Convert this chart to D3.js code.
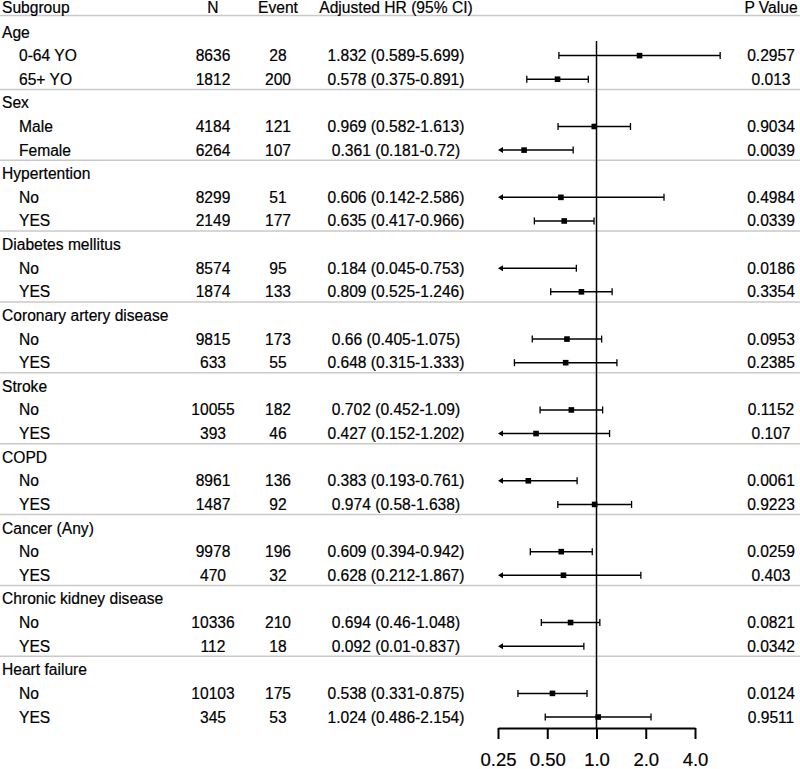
<!DOCTYPE html>
<html>
<head>
<meta charset="utf-8">
<script src="https://cdn.jsdelivr.net/npm/d3@7"></script>
<style>
  html, body { margin: 0; padding: 0; background: #fff; }
  svg text { font-family: "Liberation Sans", Arial, sans-serif; fill: #000; stroke: #000; stroke-width: 0.2px; }
</style>
</head>
<body>
<svg id="chart" width="800" height="769"></svg>
<script>
// ---- data ----
const groups = ["Age", "Sex", "Hypertention", "Diabetes mellitus", "Coronary artery disease",
  "Stroke", "COPD", "Cancer (Any)", "Chronic kidney disease", "Heart failure"];
const subgroups = ["0-64 YO", "65+ YO", "Male", "Female", "No", "YES", "No", "YES", "No", "YES",
  "No", "YES", "No", "YES", "No", "YES", "No", "YES", "No", "YES"];
const nValues = [8636, 1812, 4184, 6264, 8299, 2149, 8574, 1874, 9815, 633,
  10055, 393, 8961, 1487, 9978, 470, 10336, 112, 10103, 345];
const events = [28, 200, 121, 107, 51, 177, 95, 133, 173, 55,
  182, 46, 136, 92, 196, 32, 210, 18, 175, 53];
const hr = [1.832, 0.578, 0.969, 0.361, 0.606, 0.635, 0.184, 0.809, 0.66, 0.648,
  0.702, 0.427, 0.383, 0.974, 0.609, 0.628, 0.694, 0.092, 0.538, 1.024];
const lower = [0.589, 0.375, 0.582, 0.181, 0.142, 0.417, 0.045, 0.525, 0.405, 0.315,
  0.452, 0.152, 0.193, 0.58, 0.394, 0.212, 0.46, 0.01, 0.331, 0.486];
const upper = [5.699, 0.891, 1.613, 0.72, 2.586, 0.966, 0.753, 1.246, 1.075, 1.333,
  1.09, 1.202, 0.761, 1.638, 0.942, 1.867, 1.048, 0.837, 0.875, 2.154];
const pValues = ["0.2957", "0.013", "0.9034", "0.0039", "0.4984", "0.0339", "0.0186", "0.3354",
  "0.0953", "0.2385", "0.1152", "0.107", "0.0061", "0.9223", "0.0259", "0.403",
  "0.0821", "0.0342", "0.0124", "0.9511"];
const headers = ["Subgroup", "N", "Event", "Adjusted HR (95% CI)", "P Value"];
const tickValues = [0.25, 0.5, 1, 2, 4];
const tickLabels = ["0.25", "0.50", "1.0", "2.0", "4.0"];

// ---- layout ----
const svg = d3.select("#chart");
const fs = 15.6;
const y = d3.scaleLinear().domain([1, 30]).range([32, 717]);
const x = d3.scaleLog().base(2).domain([0.25, 4]).range([498, 695]);
const axisY = 728;

// build rows
const rows = [];
groups.forEach((g, gi) => {
  rows.push({type: "group", label: g, idx: gi * 3 + 1});
  for (let k = 0; k < 2; k++) {
    const i = gi * 2 + k;
    rows.push({type: "sub", label: subgroups[i], idx: gi * 3 + 2 + k, n: nValues[i], ev: events[i],
      hr: hr[i], lo: lower[i], hi: upper[i], p: pValues[i]});
  }
});

// separators
const sepIdx = [0.3].concat(groups.slice(1).map((g, gi) => (gi + 1) * 3 + 1 - 0.57));
svg.append("g").selectAll("line").data(sepIdx).join("line")
  .attr("x1", 0).attr("x2", 800)
  .attr("y1", d => y(d)).attr("y2", d => y(d))
  .attr("stroke", "#c9c9c9").attr("stroke-width", 1.5);

// header
const colX = [2, 213, 278, 396, 771];
const colAnchor = ["start", "middle", "middle", "middle", "middle"];
svg.append("g").selectAll("text").data(headers).join("text")
  .attr("x", (d, i) => colX[i]).attr("y", y(0) - 1)
  .attr("text-anchor", (d, i) => colAnchor[i])
  .attr("dominant-baseline", "central")
  .attr("font-size", fs).text(d => d);

// table text
const tg = svg.append("g");
rows.forEach(r => {
  const yy = y(r.idx);
  if (r.type === "group") {
    tg.append("text").attr("x", 2).attr("y", yy).attr("dominant-baseline", "central")
      .attr("font-size", fs).text(r.label);
  } else {
    tg.append("text").attr("x", 19).attr("y", yy).attr("dominant-baseline", "central")
      .attr("font-size", fs).text(r.label);
    tg.append("text").attr("x", colX[1]).attr("y", yy).attr("text-anchor", "middle")
      .attr("dominant-baseline", "central").attr("font-size", fs).text(r.n);
    tg.append("text").attr("x", colX[2]).attr("y", yy).attr("text-anchor", "middle")
      .attr("dominant-baseline", "central").attr("font-size", fs).text(r.ev);
    tg.append("text").attr("x", colX[3]).attr("y", yy).attr("text-anchor", "middle")
      .attr("dominant-baseline", "central").attr("font-size", fs)
      .text(`${r.hr} (${r.lo}-${r.hi})`);
    tg.append("text").attr("x", colX[4]).attr("y", yy).attr("text-anchor", "middle")
      .attr("dominant-baseline", "central").attr("font-size", fs).text(r.p);
  }
});

// reference line at HR = 1
svg.append("line").attr("x1", x(1)).attr("x2", x(1)).attr("y1", 41).attr("y2", axisY)
  .attr("stroke", "#000").attr("stroke-width", 1.5);

// forest marks
const fg = svg.append("g");
const [dmin, dmax] = x.domain();
rows.filter(r => r.type === "sub").forEach(r => {
  const yy = y(r.idx);
  const lowClipped = r.lo < dmin;
  const x1 = lowClipped ? x(dmin) : x(r.lo);
  const x2 = x(r.hi);
  fg.append("line").attr("x1", x1 + (lowClipped ? 3 : 0)).attr("x2", x2).attr("y1", yy).attr("y2", yy)
    .attr("stroke", "#000").attr("stroke-width", 1.5);
  // right cap
  fg.append("line").attr("x1", x2).attr("x2", x2).attr("y1", yy - 3.5).attr("y2", yy + 3.5)
    .attr("stroke", "#000").attr("stroke-width", 1.3);
  if (lowClipped) {
    fg.append("path").attr("d", `M${x1},${yy} L${x1 + 5},${yy - 3} L${x1 + 5},${yy + 3} Z`)
      .attr("fill", "#000");
  } else {
    fg.append("line").attr("x1", x1).attr("x2", x1).attr("y1", yy - 3.5).attr("y2", yy + 3.5)
      .attr("stroke", "#000").attr("stroke-width", 1.3);
  }
  if (r.hr >= dmin) {
    fg.append("rect").attr("x", x(r.hr) - 2.8).attr("y", yy - 2.8)
      .attr("width", 5.6).attr("height", 5.6).attr("fill", "#000");
  }
});

// axis
const axis = d3.axisBottom(x).tickValues(tickValues)
  .tickFormat((d, i) => tickLabels[i]).tickSize(11).tickSizeOuter(0);
const ag = svg.append("g").attr("transform", `translate(0,${axisY})`).call(axis);
ag.select(".domain").attr("stroke", "#000").attr("stroke-width", 2);
ag.selectAll(".tick line").attr("stroke", "#000").attr("stroke-width", 2);
ag.selectAll(".tick text").attr("font-size", 18.5)
  .attr("font-family", "Liberation Sans, Arial, sans-serif")
  .attr("fill", "#000").attr("dy", null).attr("y", 31)
  .attr("dominant-baseline", "central");
</script>
</body>
</html>
